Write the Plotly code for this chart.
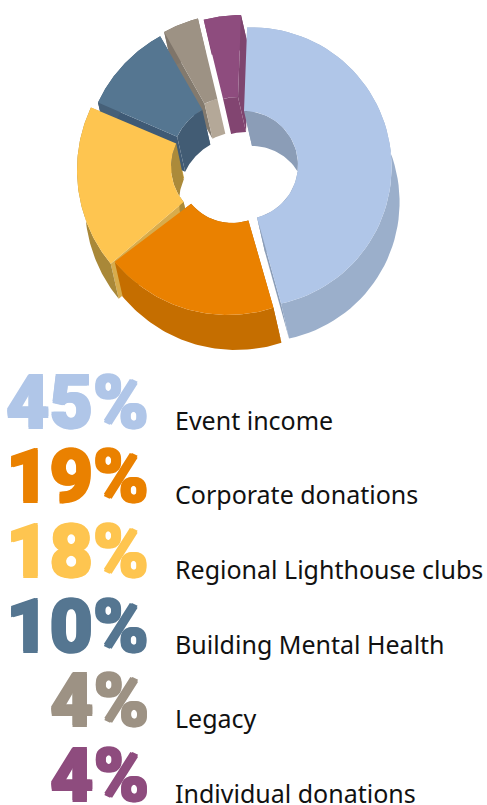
import math
import plotly.graph_objects as go

names = ["Event income", "Corporate donations", "Regional Lighthouse clubs",
         "Building Mental Health", "Legacy", "Individual donations"]
values = [45, 19, 18, 10, 4, 4]
top_colors = ["#B0C6E8", "#EA8100", "#FEC550", "#557691", "#9D9284", "#8E4C7E"]
outer_wall_colors = ["#9BAFCB", "#C56E00", "#A98838", "#466078", "#7F756A", "#7E456F"]
inner_wall_colors = ["#8B9DB7", "#A86000", "#AB8A3A", "#425C74", "#B4A898", "#824571"]
side_colors = ["#8A9DB8", "#B56600", "#D8AC4C", "#3F5A75", "#837A6E", "#7E456F"]

# Projection of each exploded slice in pixels (screen-space layout, not data)
outer_center = [(252, 167), (228, 168), (224, 170), (231, 165), (234, 159), (241, 165)]
outer_radius = [139.6, 147, 147, 147, 145, 150]
inner_center = [(244, 165), (232, 170), (226, 167), (231, 162), (231, 152), (238, 157)]
inner_radius = [54, 53, 55, 59.5, 55, 60]
outer_trim = [(-2, 6), (0, 0), (0, 0), (0, 0), (0, 0), (0, 0)]
inner_trim = [(0, 4), (0, 0), (0, 0), (0, 0), (0, 0), (0, 0)]
depth = (8, 35)
baselines = [430, 504, 579, 654, 728, 803]


def arc(center, radius, a0, a1, shift=(0, 0), n=60):
    pts = []
    for i in range(n + 1):
        a = math.radians(a0 + (a1 - a0) * i / n)
        pts.append((center[0] + radius * math.sin(a) + shift[0],
                    center[1] - radius * math.cos(a) + shift[1]))
    return pts


fig = go.Figure()


def poly(pts, color):
    fig.add_trace(go.Scatter(
        x=[p[0] for p in pts] + [pts[0][0]], y=[p[1] for p in pts] + [pts[0][1]],
        mode="lines", fill="toself", fillcolor=color, line=dict(width=0),
        hoverinfo="skip", showlegend=False))


total = sum(values)
spans = []
acc = 0
for v in values:
    spans.append((acc / total * 360, (acc + v) / total * 360))
    acc += v

outer_arcs, inner_arcs = [], []
for i, (a0, a1) in enumerate(spans):
    outer_arcs.append(arc(outer_center[i], outer_radius[i], a0 + outer_trim[i][0], a1 + outer_trim[i][1]))
    inner_arcs.append(arc(inner_center[i], inner_radius[i], a0 + inner_trim[i][0], a1 + inner_trim[i][1]))


def shifted(pts):
    return [(x + depth[0], y + depth[1]) for x, y in pts]


for i in range(len(values)):
    for k in (0, -1):
        o, n = outer_arcs[i][k], inner_arcs[i][k]
        poly([o, n, shifted([n])[0], shifted([o])[0]], side_colors[i])
for i in range(len(values)):
    poly(outer_arcs[i] + shifted(outer_arcs[i])[::-1], outer_wall_colors[i])
for i in range(len(values)):
    poly(inner_arcs[i] + shifted(inner_arcs[i])[::-1], inner_wall_colors[i])
for i in range(len(values)):
    poly(outer_arcs[i] + inner_arcs[i][::-1], top_colors[i])

annotations = []
for i, name in enumerate(names):
    c = top_colors[i]
    annotations.append(dict(
        x=150, y=baselines[i] - 28, xref="x", yref="y", xanchor="right", yanchor="middle",
        text=f"{values[i]}%", showarrow=False, borderpad=0,
        font=dict(family="Roboto", size=75, weight=900, color=c,
                  shadow=f"1px 1px 0 {c}, -1px 1px 0 {c}, 1px -1px 0 {c}, -1px -1px 0 {c}")))
    annotations.append(dict(
        x=174, y=baselines[i] - 10.5, xref="x", yref="y", xanchor="left", yanchor="middle",
        text=name, showarrow=False, borderpad=0,
        font=dict(family="Noto Sans", size=25, color="#111111")))

fig.update_layout(
    width=487, height=805, margin=dict(l=0, r=0, t=0, b=0),
    paper_bgcolor="white", plot_bgcolor="white", showlegend=False,
    xaxis=dict(range=[0, 487], visible=False, fixedrange=True),
    yaxis=dict(range=[805, 0], visible=False, fixedrange=True),
    annotations=annotations)

fig.write_html("out.html", config={"displayModeBar": False},
               post_script="document.body.style.margin='0';")
